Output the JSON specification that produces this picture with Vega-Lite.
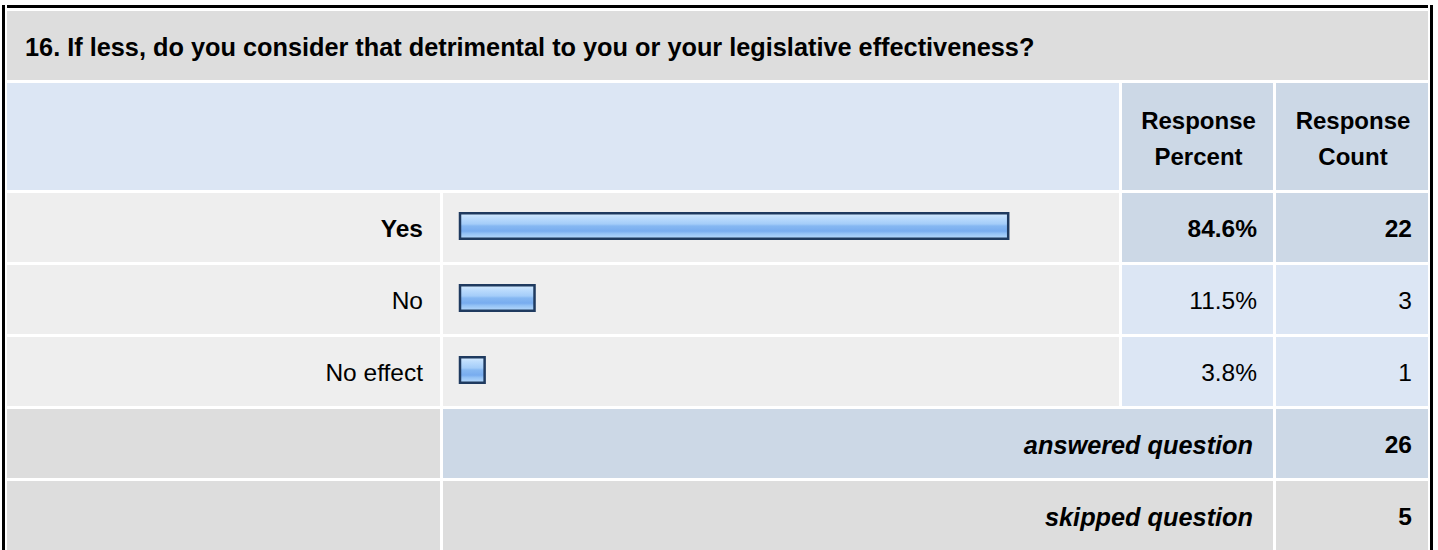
{
  "$schema": "https://vega.github.io/schema/vega-lite/v6.json",
  "background": "white",
  "padding": {"left": 2, "top": 5, "right": 0, "bottom": 0},
  "config": {
    "view": {"stroke": null},
    "text": {"font": "Liberation Sans", "fontSize": 24.5, "color": "#000000"}
  },
  "datasets": {
    "title": [{"text": "16. If less, do you consider that detrimental to you or your legislative effectiveness?"}],
    "header": [
      {"column": "percent", "title": "Response\nPercent"},
      {"column": "count", "title": "Response\nCount"}
    ],
    "answers": [
      {"answer": "Yes", "percent": 0.846, "count": 22},
      {"answer": "No", "percent": 0.115, "count": 3},
      {"answer": "No effect", "percent": 0.038, "count": 1}
    ],
    "summary": [
      {"label": "answered question", "value": 26},
      {"label": "skipped question", "value": 5}
    ]
  },
  "spacing": 2,
  "hconcat": [
    {
      "width": 3, "height": 545,
      "data": {"name": "title"},
      "mark": {"type": "rect", "color": "#000000"},
      "encoding": {}
    },
    {
      "spacing": 3,
      "vconcat": [
        {
          "width": 1421, "height": 3,
          "data": {"name": "title"},
          "mark": {"type": "rect", "color": "#000000"},
          "encoding": {}
        },
        {
          "width": 1421, "height": 69,
          "data": {"name": "title"},
          "layer": [
            {"mark": {"type": "rect", "color": "#dddddd"}, "encoding": {}},
            {
              "mark": {"type": "text", "align": "left", "x": 0, "dx": 18, "dy": 2, "fontWeight": "bold", "fontSize": 25.3},
              "encoding": {"text": {"field": "text"}}
            }
          ]
        },
        {
          "spacing": 3,
          "hconcat": [
            {
              "width": 1112, "height": 107,
              "data": {"name": "title"},
              "mark": {"type": "rect", "color": "#dce6f4"},
              "encoding": {}
            },
            {
              "width": 151, "height": 107,
              "data": {"name": "header"},
              "transform": [{"filter": "datum.column === 'percent'"}],
              "layer": [
                {"mark": {"type": "rect", "color": "#ccd8e6"}, "encoding": {}},
                {
                  "mark": {"type": "text", "align": "center", "fontWeight": "bold", "fontSize": 24, "lineBreak": "\n", "lineHeight": 36, "dy": -15, "dx": 1},
                  "encoding": {"text": {"field": "title"}}
                }
              ]
            },
            {
              "width": 152, "height": 107,
              "data": {"name": "header"},
              "transform": [{"filter": "datum.column === 'count'"}],
              "layer": [
                {"mark": {"type": "rect", "color": "#ccd8e6"}, "encoding": {}},
                {
                  "mark": {"type": "text", "align": "center", "fontWeight": "bold", "fontSize": 24, "lineBreak": "\n", "lineHeight": 36, "dy": -15, "dx": 1},
                  "encoding": {"text": {"field": "title"}}
                }
              ]
            }
          ]
        },
        {
          "spacing": 3,
          "hconcat": [
            {
              "width": 433, "height": 213,
              "data": {"name": "answers"},
              "transform": [{"joinaggregate": [{"op": "max", "field": "percent", "as": "maxp"}]}],
              "encoding": {
                "y": {"field": "answer", "type": "nominal", "sort": null, "axis": null, "scale": {"paddingInner": 0.041667, "paddingOuter": 0}}
              },
              "layer": [
                {"mark": {"type": "rect", "color": "#eeeeee"}},
                {
                  "mark": {"type": "text", "align": "right", "x": "width", "dx": -17, "dy": 2, "fontWeight": {"expr": "datum.percent === datum.maxp ? 'bold' : 'normal'"}},
                  "encoding": {"text": {"field": "answer"}}
                }
              ]
            },
            {
              "width": 676, "height": 213,
              "data": {"name": "answers"},
              "encoding": {
                "y": {"field": "answer", "type": "nominal", "sort": null, "axis": null, "scale": {"paddingInner": 0.041667, "paddingOuter": 0}}
              },
              "layer": [
                {"mark": {"type": "rect", "color": "#eeeeee"}},
                {
                  "mark": {
                    "type": "bar", "height": 25.5, "yOffset": -1.5,
                    "stroke": "#1f3a5f", "strokeWidth": 2.5,
                    "fill": {
                      "gradient": "linear", "x1": 0, "y1": 0, "x2": 0, "y2": 1,
                      "stops": [
                        {"offset": 0, "color": "#d6ebff"},
                        {"offset": 0.18, "color": "#bcdcfd"},
                        {"offset": 0.42, "color": "#a4cdf9"},
                        {"offset": 0.5, "color": "#86b8f2"},
                        {"offset": 0.7, "color": "#78acef"},
                        {"offset": 0.8, "color": "#94c2f5"},
                        {"offset": 1, "color": "#b8dafc"}
                      ]
                    }
                  },
                  "encoding": {
                    "x": {"field": "percent", "type": "quantitative", "axis": null, "scale": {"domain": [0, 1], "range": [17, 665]}}
                  }
                }
              ]
            },
            {
              "width": 151, "height": 213,
              "data": {"name": "answers"},
              "transform": [{"joinaggregate": [{"op": "max", "field": "percent", "as": "maxp"}]}],
              "encoding": {
                "y": {"field": "answer", "type": "nominal", "sort": null, "axis": null, "scale": {"paddingInner": 0.041667, "paddingOuter": 0}}
              },
              "layer": [
                {
                  "mark": {"type": "rect"},
                  "encoding": {"color": {"condition": {"test": "datum.percent === datum.maxp", "value": "#ccd8e6"}, "value": "#dce6f4"}}
                },
                {
                  "mark": {"type": "text", "align": "right", "x": "width", "dx": -16, "dy": 2, "fontWeight": {"expr": "datum.percent === datum.maxp ? 'bold' : 'normal'"}},
                  "encoding": {"text": {"field": "percent", "format": ".1%"}}
                }
              ]
            },
            {
              "width": 152, "height": 213,
              "data": {"name": "answers"},
              "transform": [{"joinaggregate": [{"op": "max", "field": "percent", "as": "maxp"}]}],
              "encoding": {
                "y": {"field": "answer", "type": "nominal", "sort": null, "axis": null, "scale": {"paddingInner": 0.041667, "paddingOuter": 0}}
              },
              "layer": [
                {
                  "mark": {"type": "rect"},
                  "encoding": {"color": {"condition": {"test": "datum.percent === datum.maxp", "value": "#ccd8e6"}, "value": "#dce6f4"}}
                },
                {
                  "mark": {"type": "text", "align": "right", "x": "width", "dx": -16, "dy": 2, "fontWeight": {"expr": "datum.percent === datum.maxp ? 'bold' : 'normal'"}},
                  "encoding": {"text": {"field": "count"}}
                }
              ]
            }
          ]
        },
        {
          "spacing": 3,
          "hconcat": [
            {
              "width": 433, "height": 141,
              "data": {"name": "summary"},
              "mark": {"type": "rect", "color": "#dddddd"},
              "encoding": {
                "y": {"field": "label", "type": "nominal", "sort": null, "axis": null, "scale": {"paddingInner": 0.041667, "paddingOuter": 0}}
              }
            },
            {
              "width": 830, "height": 141,
              "data": {"name": "summary"},
              "encoding": {
                "y": {"field": "label", "type": "nominal", "sort": null, "axis": null, "scale": {"paddingInner": 0.041667, "paddingOuter": 0}}
              },
              "layer": [
                {
                  "mark": {"type": "rect"},
                  "encoding": {"color": {"field": "label", "type": "nominal", "legend": null, "scale": {"domain": ["answered question", "skipped question"], "range": ["#ccd8e6", "#dddddd"]}}}
                },
                {
                  "mark": {"type": "text", "align": "right", "x": "width", "dx": -20, "dy": 2, "fontWeight": "bold", "fontStyle": "italic", "fontSize": 25.3},
                  "encoding": {"text": {"field": "label"}}
                }
              ]
            },
            {
              "width": 152, "height": 141,
              "data": {"name": "summary"},
              "encoding": {
                "y": {"field": "label", "type": "nominal", "sort": null, "axis": null, "scale": {"paddingInner": 0.041667, "paddingOuter": 0}}
              },
              "layer": [
                {
                  "mark": {"type": "rect"},
                  "encoding": {"color": {"field": "label", "type": "nominal", "legend": null, "scale": {"domain": ["answered question", "skipped question"], "range": ["#ccd8e6", "#dddddd"]}}}
                },
                {
                  "mark": {"type": "text", "align": "right", "x": "width", "dx": -16, "dy": 2, "fontWeight": "bold"},
                  "encoding": {"text": {"field": "value"}}
                }
              ]
            }
          ]
        }
      ]
    },
    {
      "width": 3, "height": 545,
      "data": {"name": "title"},
      "mark": {"type": "rect", "color": "#000000"},
      "encoding": {}
    }
  ]
}
